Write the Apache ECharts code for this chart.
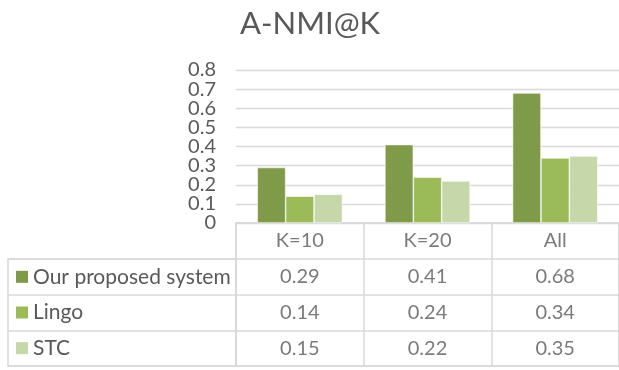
<!DOCTYPE html>
<html>
<head>
<meta charset="utf-8">
<script src="https://cdn.jsdelivr.net/npm/echarts@6/dist/echarts.min.js"></script>
<style>
  html, body { margin: 0; padding: 0; background: #ffffff; }
  #chart { width: 619px; height: 370px; overflow: hidden; }
</style>
</head>
<body>
<div id="chart"></div>
<script>
// A-NMI@K scores with a data table under the bars
const categories = ['K=10', 'K=20', 'All'];
const seriesNames = ['Our proposed system', 'Lingo', 'STC'];
const ourSystem = [0.29, 0.41, 0.68];
const lingo = [0.14, 0.24, 0.34];
const stc = [0.15, 0.22, 0.35];
const yTicks = ['0', '0.1', '0.2', '0.3', '0.4', '0.5', '0.6', '0.7', '0.8'];

const palette = ['#7f9a48', '#9bbb59', '#c6d7aa'];
const seriesValues = [ourSystem, lingo, stc];
const FONT = 'Lato';
const TEXT = '#595959';
const LINE = '#d9d9d9';

// table cells: header row (category names) + one row per series
const tableRows = ['__header'].concat(seriesNames);
const cellData = [];
categories.forEach((c, ci) => cellData.push([ci, 0, c]));
seriesValues.forEach((vals, si) => {
  vals.forEach((v, ci) => cellData.push([ci, si + 1, v.toFixed(2)]));
});

// rich-text swatches for the row headers
const rich = { t: { fontFamily: FONT, fontSize: 21, color: TEXT, padding: [0, 0, 0, 5] } };
seriesNames.forEach((n, i) => {
  rich['s' + i] = { width: 12, height: 12, backgroundColor: palette[i] };
});

const chart = echarts.init(document.getElementById('chart'), null, { renderer: 'canvas' });

chart.setOption({
  animation: false,
  backgroundColor: '#ffffff',
  title: {
    text: 'A-NMI@K',
    left: 235,
    top: 3,
    textStyle: { fontFamily: FONT, fontSize: 31, fontWeight: 'normal', color: TEXT }
  },
  grid: [
    // plot area
    { left: 236, width: 386, top: 70, height: 153, show: false },
    // value table (header + series rows)
    { left: 236, width: 386, top: 223, height: 143, show: true, borderColor: LINE, borderWidth: 1.5 },
    // row-header column
    { left: 8, width: 228, top: 259, height: 107, show: true, borderColor: LINE, borderWidth: 1.5 }
  ],
  xAxis: [
    {
      gridIndex: 0, type: 'category', data: categories,
      axisLine: { show: true, lineStyle: { color: LINE, width: 1.5 } },
      axisTick: { show: false }, axisLabel: { show: false },
      splitLine: { show: false }, splitArea: { show: false }
    },
    {
      gridIndex: 1, type: 'category', data: categories,
      axisLine: { show: false }, axisTick: { show: false }, axisLabel: { show: false },
      splitLine: { show: true, interval: 0, lineStyle: { color: LINE, width: 1.5 } }
    },
    {
      gridIndex: 2, type: 'value', min: 0, max: 1, show: false
    }
  ],
  yAxis: [
    // value scale for the bars (gridlines only)
    {
      gridIndex: 0, type: 'value', min: 0, max: 0.8, interval: 0.1, position: 'left',
      axisLine: { show: false }, axisTick: { show: false }, axisLabel: { show: false },
      splitLine: { show: true, showMinLine: true, showMaxLine: true, lineStyle: { color: LINE, width: 1.3 } }
    },
    {
      gridIndex: 1, type: 'category', data: tableRows, inverse: true,
      axisLine: { show: false }, axisTick: { show: false }, axisLabel: { show: false },
      splitLine: { show: true, interval: 0, lineStyle: { color: LINE, width: 1.5 } }
    },
    {
      gridIndex: 2, type: 'category', data: seriesNames, inverse: true,
      axisLine: { show: false }, axisTick: { show: false },
      axisLabel: {
        inside: true, margin: 8, align: 'left', interval: 0,
        formatter: (name) => '{s' + seriesNames.indexOf(name) + '|}{t|' + name + '}',
        rich: rich
      },
      splitLine: { show: true, interval: 0, lineStyle: { color: LINE, width: 1.5 } }
    },
    // tick labels 0 … 0.8, spaced on the same range as the value scale
    {
      gridIndex: 0, type: 'category', data: yTicks, boundaryGap: false, position: 'left', offset: 0,
      axisLine: { show: false }, axisTick: { show: false }, splitLine: { show: false },
      axisLabel: { interval: 0, margin: 20, color: TEXT, fontFamily: FONT, fontSize: 20 }
    }
  ],
  series: seriesNames.map((name, i) => ({
    name: name,
    type: 'bar',
    xAxisIndex: 0, yAxisIndex: 0,
    data: seriesValues[i],
    barWidth: 28.4,
    barGap: '0%',
    itemStyle: { color: palette[i], borderColor: '#ffffff', borderWidth: 0.6 }
  })).concat([{
    type: 'scatter',
    xAxisIndex: 1, yAxisIndex: 1,
    silent: true,
    symbol: 'rect', symbolSize: 1,
    itemStyle: { color: 'rgba(0,0,0,0)' },
    data: cellData,
    label: {
      show: true, position: 'inside',
      formatter: p => p.data[2],
      fontFamily: FONT, fontSize: 20, color: TEXT
    }
  }])
});
</script>
</body>
</html>
